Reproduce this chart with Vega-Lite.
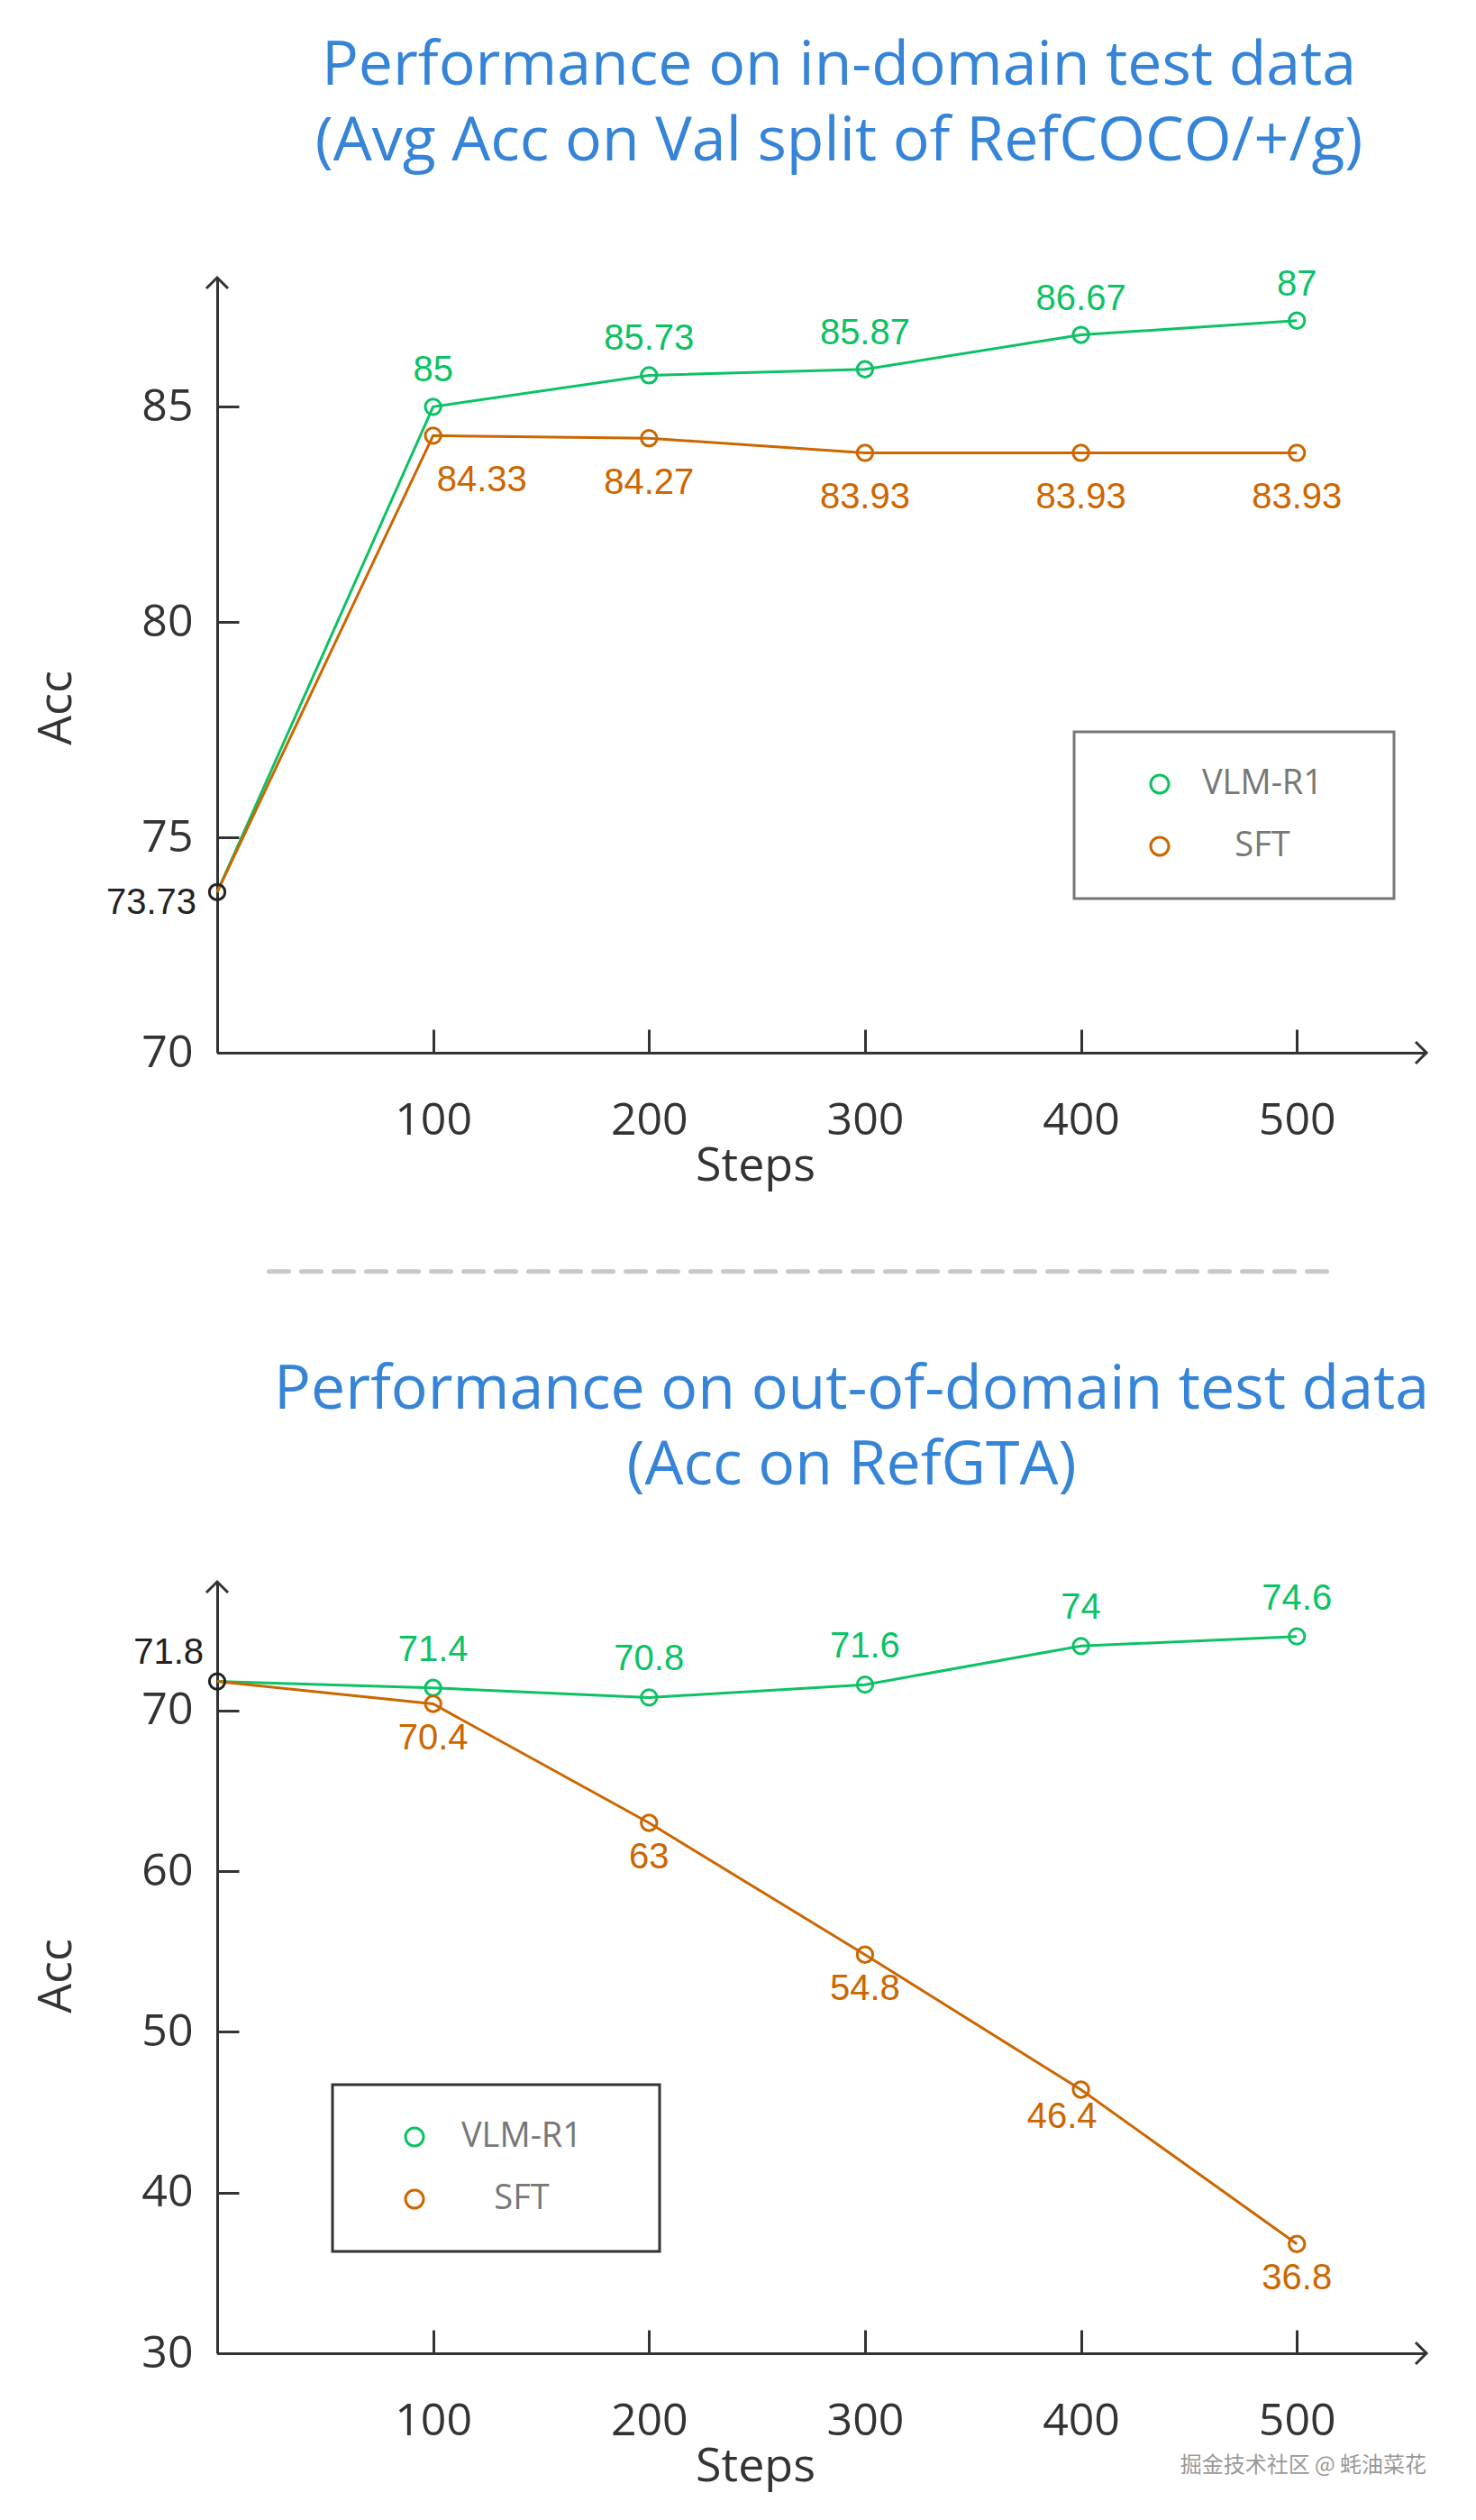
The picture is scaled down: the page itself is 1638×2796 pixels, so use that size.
{
  "$schema": "https://vega.github.io/schema/vega-lite/v6.json",
  "background": "white",
  "padding": {"left": 36, "top": 39, "right": 0, "bottom": 20},
  "spacing": 95,
  "resolve": {"scale": {"color": "independent"}, "legend": {"color": "independent"}},
  "config": {"view": {"stroke": null}, "font": "Open Sans", "legend": {"strokeWidth": 3}},
  "datasets": {
    "indomain": [
      {"step": 0, "model": "VLM-R1", "acc": 73.73},
      {"step": 100, "model": "VLM-R1", "acc": 85},
      {"step": 200, "model": "VLM-R1", "acc": 85.73},
      {"step": 300, "model": "VLM-R1", "acc": 85.87},
      {"step": 400, "model": "VLM-R1", "acc": 86.67},
      {"step": 500, "model": "VLM-R1", "acc": 87},
      {"step": 0, "model": "SFT", "acc": 73.73},
      {"step": 100, "model": "SFT", "acc": 84.33},
      {"step": 200, "model": "SFT", "acc": 84.27},
      {"step": 300, "model": "SFT", "acc": 83.93},
      {"step": 400, "model": "SFT", "acc": 83.93},
      {"step": 500, "model": "SFT", "acc": 83.93}
    ],
    "outdomain": [
      {"step": 0, "model": "VLM-R1", "acc": 71.8},
      {"step": 100, "model": "VLM-R1", "acc": 71.4},
      {"step": 200, "model": "VLM-R1", "acc": 70.8},
      {"step": 300, "model": "VLM-R1", "acc": 71.6},
      {"step": 400, "model": "VLM-R1", "acc": 74},
      {"step": 500, "model": "VLM-R1", "acc": 74.6},
      {"step": 0, "model": "SFT", "acc": 71.8},
      {"step": 100, "model": "SFT", "acc": 70.4},
      {"step": 200, "model": "SFT", "acc": 63},
      {"step": 300, "model": "SFT", "acc": 54.8},
      {"step": 400, "model": "SFT", "acc": 46.4},
      {"step": 500, "model": "SFT", "acc": 36.8}
    ]
  },
  "vconcat": [
    {
      "width": 1342,
      "height": 860,
      "title": {
        "text": ["Performance on in-domain test data", "(Avg Acc on Val split of RefCOCO/+/g)"],
        "fontSize": 68, "lineHeight": 84, "color": "#3584d8", "font": "Open Sans", "fontWeight": "normal",
        "anchor": "middle", "frame": "group", "offset": 104, "dx": 19
      },
      "data": {"name": "indomain"},
      "layer": [
        {
          "mark": {"type": "line", "strokeWidth": 3},
          "encoding": {
            "x": {"field": "step", "type": "quantitative",
              "scale": {"domain": [0, 560], "nice": false, "zero": false},
              "axis": {"values": [100, 200, 300, 400, 500], "domainColor": "#333", "domainWidth": 3,
                "grid": true, "gridColor": "#333", "gridWidth": 3, "gridDash": [26, 834], "gridDashOffset": 26, "gridOpacity": 1,
                "ticks": true, "tickColor": "#333", "tickWidth": 3, "tickSize": -20, "labelFontSize": 50, "labelColor": "#333",
                "labelPadding": 70, "title": "Steps", "titleFontSize": 52, "titleColor": "#333", "titleFontWeight": "normal",
                "titleX": 597, "titleY": 125, "titleBaseline": "middle"}},
            "y": {"field": "acc", "type": "quantitative",
              "scale": {"domain": [70, 88], "nice": false, "zero": false},
              "axis": {"values": [70, 75, 80, 85], "domainColor": "#333", "domainWidth": 3,
                "grid": true, "gridColor": "#333", "gridWidth": 3, "gridDash": [24, 3000], "gridOpacity": 1,
                "ticks": true, "tickColor": "#333", "tickWidth": 3, "tickSize": -22, "labelFontSize": 50, "labelColor": "#333",
                "labelPadding": 49, "title": "Acc", "titleFontSize": 52, "titleColor": "#333", "titleFontWeight": "normal",
                "titleX": -179, "titleY": 477, "titleAngle": -90, "titleBaseline": "middle"}},
            "color": {"field": "model", "type": "nominal",
              "scale": {"domain": ["VLM-R1", "SFT"], "range": ["#0cc264", "#cc6600"]},
              "legend": {"orient": "none", "legendX": 951, "legendY": 504, "title": " ", "titleOrient": "right",
                "titlePadding": 40, "strokeColor": "#777", "padding": 39, "rowPadding": 31,
                "symbolType": "circle", "symbolSize": 400, "symbolStrokeWidth": 3, "symbolOffset": 37, "symbolOpacity": 0.7,
                "symbolFillColor": "transparent",
                "labelFontSize": 38, "labelColor": "#777", "labelFont": "Open Sans", "labelAlign": "center", "labelOffset": 95}}
          }
        },
        {
          "transform": [{"filter": "datum.step > 0"}],
          "mark": {"type": "point", "filled": false, "size": 300, "strokeWidth": 3, "opacity": 1},
          "encoding": {
            "x": {"field": "step", "type": "quantitative"},
            "y": {"field": "acc", "type": "quantitative"},
            "color": {"field": "model", "type": "nominal"}
          }
        },
        {
          "transform": [{"filter": "datum.step == 0 && datum.model == 'VLM-R1'"}],
          "mark": {"type": "point", "filled": false, "size": 300, "strokeWidth": 3, "color": "#222", "opacity": 1},
          "encoding": {
            "x": {"field": "step", "type": "quantitative"},
            "y": {"field": "acc", "type": "quantitative"}
          }
        },
        {
          "transform": [{"filter": "datum.step > 0 && datum.model == 'VLM-R1'"}],
          "mark": {"type": "text", "dy": -40, "fontSize": 40, "font": "Liberation Sans", "color": "#0cc264"},
          "encoding": {
            "x": {"field": "step", "type": "quantitative"},
            "y": {"field": "acc", "type": "quantitative"},
            "text": {"field": "acc", "type": "nominal"}
          }
        },
        {
          "transform": [{"filter": "datum.step > 100 && datum.model == 'SFT'"}],
          "mark": {"type": "text", "dy": 50, "fontSize": 40, "font": "Liberation Sans", "color": "#cc6600"},
          "encoding": {
            "x": {"field": "step", "type": "quantitative"},
            "y": {"field": "acc", "type": "quantitative"},
            "text": {"field": "acc", "type": "nominal"}
          }
        },
        {
          "transform": [{"filter": "datum.step == 100 && datum.model == 'SFT'"}],
          "mark": {"type": "text", "dy": 50, "dx": 4, "align": "left", "fontSize": 40, "font": "Liberation Sans", "color": "#cc6600"},
          "encoding": {
            "x": {"field": "step", "type": "quantitative"},
            "y": {"field": "acc", "type": "quantitative"},
            "text": {"field": "acc", "type": "nominal"}
          }
        },
        {
          "transform": [{"filter": "datum.step == 0 && datum.model == 'VLM-R1'"}],
          "mark": {"type": "text", "dx": -23, "dy": 12, "align": "right", "fontSize": 40, "font": "Liberation Sans", "color": "#222"},
          "encoding": {
            "x": {"field": "step", "type": "quantitative"},
            "y": {"field": "acc", "type": "quantitative"},
            "text": {"field": "acc", "type": "nominal"}
          }
        },
        {
          "data": {"values": [{}]},
          "mark": {"type": "point", "shape": "M-1,1L0,0L1,1", "filled": false, "size": 576, "strokeWidth": 3, "color": "#333", "opacity": 1},
          "encoding": {"x": {"datum": 0, "type": "quantitative"}, "y": {"datum": 88, "type": "quantitative"}}
        },
        {
          "data": {"values": [{}]},
          "mark": {"type": "point", "shape": "M-1,-1L0,0L-1,1", "filled": false, "size": 576, "strokeWidth": 3, "color": "#333", "opacity": 1},
          "encoding": {"x": {"datum": 560, "type": "quantitative"}, "y": {"datum": 70, "type": "quantitative"}}
        },
        {
          "data": {"values": [{}]},
          "mark": {"type": "rule", "strokeDash": [22, 14], "strokeWidth": 5, "color": "#c8c8c8", "strokeCap": "round"},
          "encoding": {"x": {"datum": 24, "type": "quantitative"}, "x2": {"datum": 515}, "y": {"datum": 64.92, "type": "quantitative"}}
        }
      ]
    },
    {
      "width": 1342,
      "height": 856,
      "title": {
        "text": ["Performance on out-of-domain test data", "(Acc on RefGTA)"],
        "fontSize": 68, "lineHeight": 84, "color": "#3584d8", "font": "Open Sans", "fontWeight": "normal",
        "anchor": "middle", "frame": "group", "offset": 88, "dx": 33
      },
      "data": {"name": "outdomain"},
      "layer": [
        {
          "mark": {"type": "line", "strokeWidth": 3},
          "encoding": {
            "x": {"field": "step", "type": "quantitative",
              "scale": {"domain": [0, 560], "nice": false, "zero": false},
              "axis": {"values": [100, 200, 300, 400, 500], "domainColor": "#333", "domainWidth": 3,
                "grid": true, "gridColor": "#333", "gridWidth": 3, "gridDash": [26, 830], "gridDashOffset": 26, "gridOpacity": 1,
                "ticks": true, "tickColor": "#333", "tickWidth": 3, "tickSize": -20, "labelFontSize": 50, "labelColor": "#333",
                "labelPadding": 70, "title": "Steps", "titleFontSize": 52, "titleColor": "#333", "titleFontWeight": "normal",
                "titleX": 597, "titleY": 125, "titleBaseline": "middle"}},
            "y": {"field": "acc", "type": "quantitative",
              "scale": {"domain": [30, 78], "nice": false, "zero": false},
              "axis": {"values": [30, 40, 50, 60, 70], "domainColor": "#333", "domainWidth": 3,
                "grid": true, "gridColor": "#333", "gridWidth": 3, "gridDash": [24, 3000], "gridOpacity": 1,
                "ticks": true, "tickColor": "#333", "tickWidth": 3, "tickSize": -22, "labelFontSize": 50, "labelColor": "#333",
                "labelPadding": 49, "title": "Acc", "titleFontSize": 52, "titleColor": "#333", "titleFontWeight": "normal",
                "titleX": -179, "titleY": 437, "titleAngle": -90, "titleBaseline": "middle"}},
            "color": {"field": "model", "type": "nominal",
              "scale": {"domain": ["VLM-R1", "SFT"], "range": ["#0cc264", "#cc6600"]},
              "legend": {"orient": "none", "legendX": 128, "legendY": 558, "title": " ", "titleOrient": "right",
                "titlePadding": 47, "strokeColor": "#333", "padding": 39, "rowPadding": 31,
                "symbolType": "circle", "symbolSize": 400, "symbolStrokeWidth": 3, "symbolOffset": 33,
                "symbolFillColor": "transparent",
                "labelFontSize": 38, "labelColor": "#777", "labelFont": "Open Sans", "labelAlign": "center", "labelOffset": 100}}
          }
        },
        {
          "transform": [{"filter": "datum.step > 0"}],
          "mark": {"type": "point", "filled": false, "size": 300, "strokeWidth": 3, "opacity": 1},
          "encoding": {
            "x": {"field": "step", "type": "quantitative"},
            "y": {"field": "acc", "type": "quantitative"},
            "color": {"field": "model", "type": "nominal"}
          }
        },
        {
          "transform": [{"filter": "datum.step == 0 && datum.model == 'VLM-R1'"}],
          "mark": {"type": "point", "filled": false, "size": 300, "strokeWidth": 3, "color": "#222", "opacity": 1},
          "encoding": {
            "x": {"field": "step", "type": "quantitative"},
            "y": {"field": "acc", "type": "quantitative"}
          }
        },
        {
          "transform": [{"filter": "datum.step > 0 && datum.model == 'VLM-R1'"}],
          "mark": {"type": "text", "dy": -42, "fontSize": 40, "font": "Liberation Sans", "color": "#0cc264"},
          "encoding": {
            "x": {"field": "step", "type": "quantitative"},
            "y": {"field": "acc", "type": "quantitative"},
            "text": {"field": "acc", "type": "nominal"}
          }
        },
        {
          "transform": [{"filter": "datum.step > 0 && datum.step != 400 && datum.model == 'SFT'"}],
          "mark": {"type": "text", "dy": 38, "fontSize": 40, "font": "Liberation Sans", "color": "#cc6600"},
          "encoding": {
            "x": {"field": "step", "type": "quantitative"},
            "y": {"field": "acc", "type": "quantitative"},
            "text": {"field": "acc", "type": "nominal"}
          }
        },
        {
          "transform": [{"filter": "datum.step == 400 && datum.model == 'SFT'"}],
          "mark": {"type": "text", "dy": 30, "dx": -21, "fontSize": 40, "font": "Liberation Sans", "color": "#cc6600"},
          "encoding": {
            "x": {"field": "step", "type": "quantitative"},
            "y": {"field": "acc", "type": "quantitative"},
            "text": {"field": "acc", "type": "nominal"}
          }
        },
        {
          "transform": [{"filter": "datum.step == 0 && datum.model == 'VLM-R1'"}],
          "mark": {"type": "text", "dx": -15, "dy": -32, "align": "right", "fontSize": 40, "font": "Liberation Sans", "color": "#222"},
          "encoding": {
            "x": {"field": "step", "type": "quantitative"},
            "y": {"field": "acc", "type": "quantitative"},
            "text": {"field": "acc", "type": "nominal"}
          }
        },
        {
          "data": {"values": [{}]},
          "mark": {"type": "point", "shape": "M-1,1L0,0L1,1", "filled": false, "size": 576, "strokeWidth": 3, "color": "#333", "opacity": 1},
          "encoding": {"x": {"datum": 0, "type": "quantitative"}, "y": {"datum": 78, "type": "quantitative"}}
        },
        {
          "data": {"values": [{}]},
          "mark": {"type": "point", "shape": "M-1,-1L0,0L-1,1", "filled": false, "size": 576, "strokeWidth": 3, "color": "#333", "opacity": 1},
          "encoding": {"x": {"datum": 560, "type": "quantitative"}, "y": {"datum": 30, "type": "quantitative"}}
        },
        {
          "data": {"values": [{}]},
          "mark": {"type": "text", "text": "掘金技术社区 @ 蚝油菜花", "font": "Noto Sans CJK SC", "fontSize": 24, "color": "#999"},
          "encoding": {"x": {"datum": 503, "type": "quantitative"}, "y": {"datum": 23, "type": "quantitative"}}
        }
      ]
    }
  ]
}
